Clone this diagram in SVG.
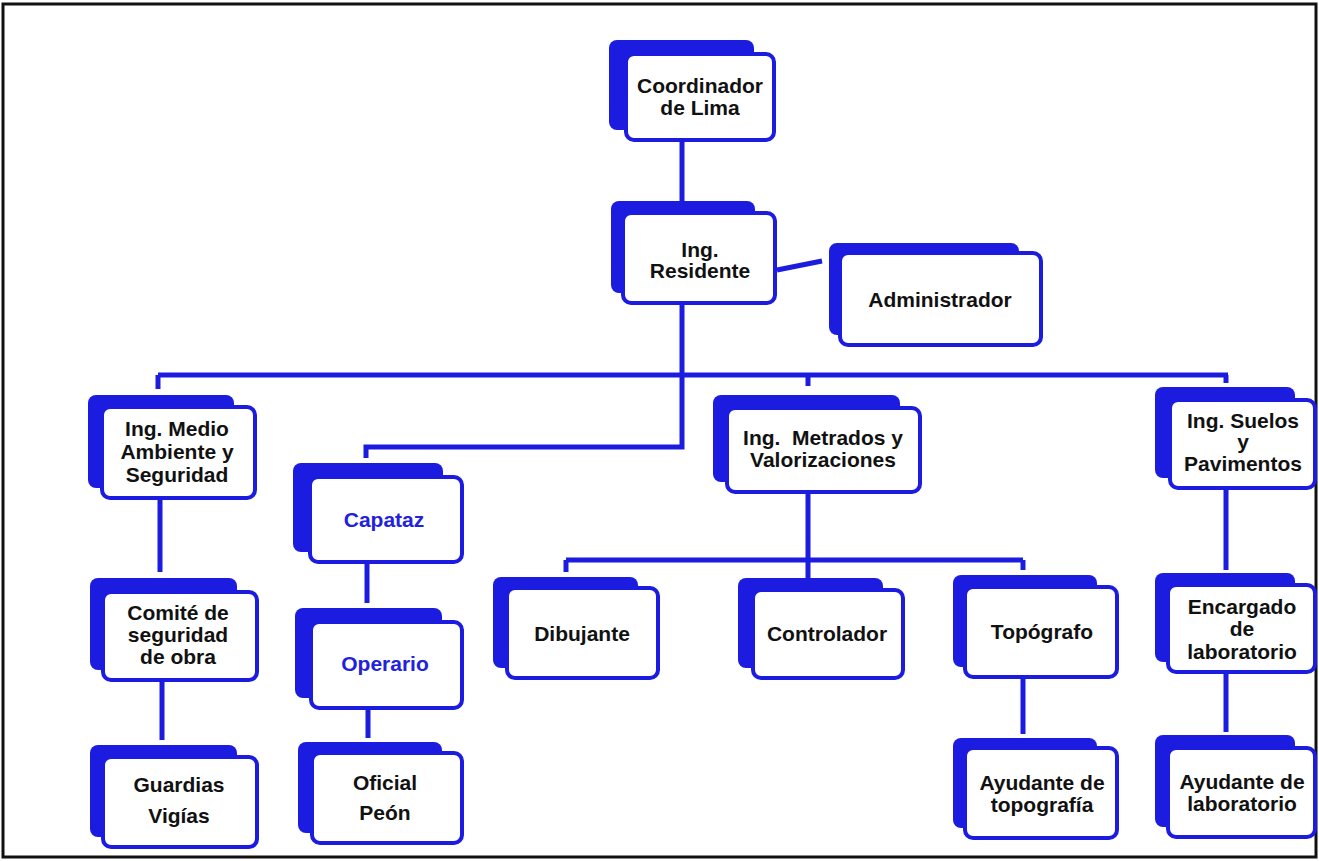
<svg xmlns="http://www.w3.org/2000/svg" width="1319" height="861" viewBox="0 0 1319 861">
<style>
.back{fill:#1c1ce0;}
.front{fill:#ffffff;stroke:#1c1ce0;stroke-width:4;}
.t{font-family:"Liberation Sans",Arial,sans-serif;font-weight:bold;font-size:21px;fill:#111111;text-anchor:middle;}
.tb{fill:#2222dd;}
.c{stroke:#1c1ce0;stroke-width:5;fill:none;}
</style>
<rect x="0" y="0" width="1319" height="861" fill="#ffffff"/>
<rect x="3" y="4" width="1313" height="853" fill="none" stroke="#111111" stroke-width="3"/>
<g id="connectors">
<path class="c" d="M682,140 V201"/>
<path class="c" d="M777,270 L822,261"/>
<path class="c" d="M682,303 V447 H366 V458"/>
<path class="c" d="M158,375 H1228"/>
<path class="c" d="M158,375 V389"/>
<path class="c" d="M808,375 V386"/>
<path class="c" d="M1226,375 V383"/>
<path class="c" d="M160,498 V572"/>
<path class="c" d="M162,680 V740"/>
<path class="c" d="M367,562 V603"/>
<path class="c" d="M368,708 V738"/>
<path class="c" d="M808,492 V580"/>
<path class="c" d="M566,560 H1023"/>
<path class="c" d="M566,560 V572"/>
<path class="c" d="M1023,560 V570"/>
<path class="c" d="M1023,677 V734"/>
<path class="c" d="M1226,488 V570"/>
<path class="c" d="M1226,672 V732"/>
</g>
<g id="coordinador">
<rect class="back" x="609" y="40" width="145" height="90" rx="8"/>
<rect class="front" x="626" y="54" width="148" height="86" rx="8"/>
<text class="t" x="700" y="93">Coordinador</text>
<text class="t" x="700" y="115">de Lima</text>
</g>
<g id="residente">
<rect class="back" x="611" y="201" width="144" height="92" rx="8"/>
<rect class="front" x="623" y="213" width="152" height="90" rx="8"/>
<text class="t" x="700" y="257">Ing.</text>
<text class="t" x="700" y="278">Residente</text>
</g>
<g id="administrador">
<rect class="back" x="829" y="243" width="190" height="92" rx="8"/>
<rect class="front" x="840" y="253" width="201" height="92" rx="8"/>
<text class="t" x="940" y="307">Administrador</text>
</g>
<g id="medio-ambiente">
<rect class="back" x="88" y="395" width="146" height="93" rx="8"/>
<rect class="front" x="102" y="407" width="153" height="91" rx="8"/>
<text class="t" x="177" y="436">Ing. Medio</text>
<text class="t" x="177" y="459">Ambiente y</text>
<text class="t" x="177" y="482">Seguridad</text>
</g>
<g id="capataz">
<rect class="back" x="293" y="463" width="150" height="89" rx="8"/>
<rect class="front" x="310" y="477" width="152" height="85" rx="8"/>
<text class="t tb" x="384" y="527">Capataz</text>
</g>
<g id="operario">
<rect class="back" x="295" y="608" width="147" height="90" rx="8"/>
<rect class="front" x="311" y="622" width="151" height="86" rx="8"/>
<text class="t tb" x="385" y="671">Operario</text>
</g>
<g id="oficial">
<rect class="back" x="298" y="742" width="144" height="91" rx="8"/>
<rect class="front" x="312" y="753" width="150" height="90" rx="8"/>
<text class="t" x="385" y="790">Oficial</text>
<text class="t" x="385" y="820">Peón</text>
</g>
<g id="metrados">
<rect class="back" x="713" y="395" width="187" height="87" rx="8"/>
<rect class="front" x="727" y="408" width="193" height="84" rx="8"/>
<text class="t" x="823" y="445" xml:space="preserve">Ing.  Metrados y</text>
<text class="t" x="823" y="467">Valorizaciones</text>
</g>
<g id="dibujante">
<rect class="back" x="493" y="577" width="145" height="91" rx="8"/>
<rect class="front" x="507" y="588" width="151" height="90" rx="8"/>
<text class="t" x="582" y="641">Dibujante</text>
</g>
<g id="controlador">
<rect class="back" x="738" y="578" width="145" height="90" rx="8"/>
<rect class="front" x="753" y="590" width="150" height="88" rx="8"/>
<text class="t" x="827" y="641">Controlador</text>
</g>
<g id="topografo">
<rect class="back" x="953" y="575" width="144" height="92" rx="8"/>
<rect class="front" x="965" y="587" width="152" height="90" rx="8"/>
<text class="t" x="1042" y="639">Topógrafo</text>
</g>
<g id="ayudante-topografia">
<rect class="back" x="953" y="738" width="144" height="90" rx="8"/>
<rect class="front" x="965" y="748" width="152" height="90" rx="8"/>
<text class="t" x="1042" y="790">Ayudante de</text>
<text class="t" x="1042" y="812">topografía</text>
</g>
<g id="comite">
<rect class="back" x="90" y="578" width="147" height="92" rx="8"/>
<rect class="front" x="103" y="592" width="154" height="88" rx="8"/>
<text class="t" x="178" y="620">Comité de</text>
<text class="t" x="178" y="642">seguridad</text>
<text class="t" x="178" y="664">de obra</text>
</g>
<g id="guardias">
<rect class="back" x="90" y="745" width="147" height="92" rx="8"/>
<rect class="front" x="103" y="757" width="154" height="90" rx="8"/>
<text class="t" x="179" y="792">Guardias</text>
<text class="t" x="179" y="823">Vigías</text>
</g>
<g id="suelos">
<rect class="back" x="1155" y="387" width="140" height="91" rx="8"/>
<rect class="front" x="1170" y="400" width="145" height="88" rx="8"/>
<text class="t" x="1243" y="428">Ing. Suelos</text>
<text class="t" x="1243" y="449">y</text>
<text class="t" x="1243" y="471">Pavimentos</text>
</g>
<g id="encargado">
<rect class="back" x="1155" y="573" width="140" height="89" rx="8"/>
<rect class="front" x="1168" y="585" width="147" height="87" rx="8"/>
<text class="t" x="1242" y="614">Encargado</text>
<text class="t" x="1242" y="636">de</text>
<text class="t" x="1242" y="659">laboratorio</text>
</g>
<g id="ayudante-laboratorio">
<rect class="back" x="1155" y="735" width="140" height="92" rx="8"/>
<rect class="front" x="1168" y="748" width="147" height="89" rx="8"/>
<text class="t" x="1242" y="789">Ayudante de</text>
<text class="t" x="1242" y="811">laboratorio</text>
</g>
</svg>
